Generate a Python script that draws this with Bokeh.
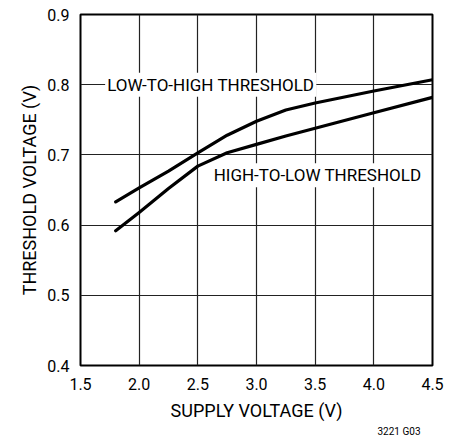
from bokeh.plotting import figure
from bokeh.models import Label, Title, FixedTicker, Range1d
from bokeh.embed import file_html
from bokeh.resources import INLINE

supply_v = [1.8, 2.0, 2.25, 2.5, 2.75, 3.0, 3.25, 3.5, 4.0, 4.5]
low_to_high = [0.633, 0.653, 0.677, 0.703, 0.728, 0.748, 0.764, 0.774, 0.791, 0.807]
high_to_low = [0.592, 0.618, 0.652, 0.684, 0.703, 0.715, 0.727, 0.738, 0.760, 0.782]

x_ticks = [1.5, 2.0, 2.5, 3.0, 3.5, 4.0, 4.5]
y_ticks = [0.4, 0.5, 0.6, 0.7, 0.8, 0.9]

FONT = "Roboto"

p = figure(frame_width=352, frame_height=351, output_backend="svg", toolbar_location=None,
           x_range=Range1d(1.5, 4.5), y_range=Range1d(0.4, 0.9),
           min_border_left=80, min_border_right=23, min_border_top=14, min_border_bottom=70)

p.outline_line_color = "black"
p.outline_line_width = 2
p.background_fill_color = "white"
p.border_fill_color = "white"

for ax in (p.xaxis, p.yaxis):
    ax.axis_line_color = None
    ax.major_tick_line_color = None
    ax.minor_tick_line_color = None
    ax.major_label_text_font = FONT
    ax.major_label_text_font_size = "16px"
    ax.major_label_text_color = "black"
    ax.axis_label_text_font = FONT
    ax.axis_label_text_font_size = "18px"
    ax.axis_label_text_font_style = "normal"
    ax.axis_label_text_color = "black"

p.xaxis.ticker = FixedTicker(ticks=x_ticks)
p.yaxis.ticker = FixedTicker(ticks=y_ticks)
p.xaxis.major_label_overrides = {t: f"{t:.1f}" for t in x_ticks}
p.yaxis.major_label_overrides = {t: f"{t:.1f}" for t in y_ticks}
p.xaxis.major_label_standoff = 6
p.yaxis.major_label_standoff = 5
p.xaxis.axis_label = "SUPPLY VOLTAGE (V)"
p.yaxis.axis_label = "THRESHOLD VOLTAGE (V)"
p.xaxis.axis_label_standoff = 7
p.yaxis.axis_label_standoff = 4

p.xgrid.ticker = FixedTicker(ticks=x_ticks)
p.ygrid.ticker = FixedTicker(ticks=y_ticks)
p.grid.grid_line_color = "#222222"
p.grid.grid_line_width = 1.2
p.grid.grid_line_alpha = 1

p.line(supply_v, low_to_high, line_color="black", line_width=3.2, line_join="round", line_cap="round")
p.line(supply_v, high_to_low, line_color="black", line_width=3.2, line_join="round", line_cap="round")

lab1 = Label(x=2.61, y=0.8, text="LOW-TO-HIGH THRESHOLD", text_align="center", text_baseline="middle",
             text_font=FONT, text_font_size="17px", text_color="black",
             background_fill_color="white", padding=2)
lab2 = Label(x=3.52, y=0.671, text="HIGH-TO-LOW THRESHOLD", text_align="center", text_baseline="middle",
             text_font=FONT, text_font_size="17px", text_color="black",
             background_fill_color="white", padding=2)
p.add_layout(lab1)
p.add_layout(lab2)

p.add_layout(Title(text="3221 G03", align="right", offset=12, standoff=0, text_font="Roboto",
                   text_font_size="10px", text_font_style="normal", text_color="black"), "below")

open("out.html", "w").write(file_html(p, INLINE))
